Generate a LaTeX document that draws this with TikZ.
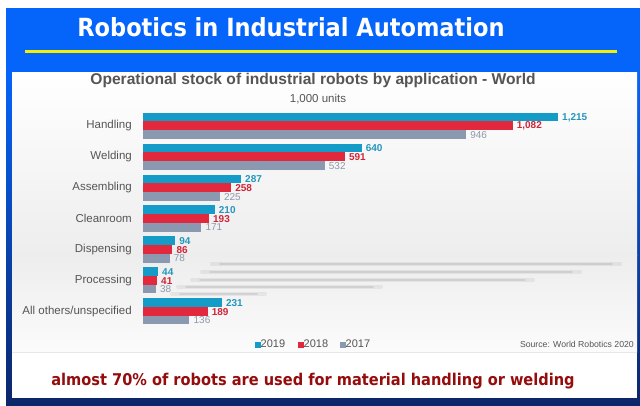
\documentclass[tikz,border=0pt]{standalone}
\usepackage{fontspec}
\setmainfont{Liberation Sans}
\newfontfamily\headfont{DejaVu Sans Condensed}
\definecolor{frameblue}{RGB}{5,100,250}
\definecolor{framenavy}{RGB}{12,38,105}
\definecolor{lineyellow}{RGB}{245,240,0}
\definecolor{bar19}{RGB}{20,155,200}
\definecolor{bar18}{RGB}{225,40,60}
\definecolor{bar17}{RGB}{138,152,176}
\definecolor{val19}{RGB}{35,150,190}
\definecolor{val18}{RGB}{210,35,55}
\definecolor{val17}{RGB}{140,152,172}
\definecolor{labgray}{RGB}{85,85,85}
\definecolor{notered}{RGB}{150,12,12}
\begin{document}
\begin{tikzpicture}[x=1pt,y=-1pt,
    /pgf/number format/1000 sep={,},
    /pgf/number format/assume math mode=true,
    title/.style={font={\headfont\bfseries\fontsize{25}{29}\selectfont},text=white},
    charttitle/.style={font={\bfseries\fontsize{15.6}{18}\selectfont},text=labgray},
    lab/.style={font={\fontsize{11.5}{13}\selectfont},text=labgray,anchor=east,inner sep=0pt},
    val/.style={font={\fontsize{10}{11}\selectfont},anchor=west,inner sep=0pt},
    boldval/.style={val,font={\bfseries\fontsize{10}{11}\selectfont}},
    leg/.style={font={\fontsize{11}{13}\selectfont},text=labgray,anchor=west,inner sep=0pt},
    note/.style={font={\headfont\bfseries\fontsize{16.2}{20}\selectfont},text=notered},
    streak/.style={gray,opacity=0.12,line width=4pt,line cap=round},
    streakcore/.style={gray,opacity=0.18,line width=1.8pt,line cap=round},
    ]
    \useasboundingbox (0,0) rectangle (640,405);

    % Blue frame
    \fill[frameblue] (6,8) rectangle (640,72);
    \shade[top color=frameblue,bottom color=framenavy] (6,72) rectangle (640,405);

    % Heading and yellow rule
    \node[title] (title) at (291,27) {Robotics in Industrial Automation};
    \coordinate (ruleL) at (25,51);
    \coordinate (ruleR) at (617,51);
    \draw[lineyellow,line width=3pt] (ruleL) -- (ruleR);

    % White panel with grey chart area
    \fill[white] (12,72) rectangle (637,398);
    \shade[top color=white,bottom color=gray!14] (12,72) rectangle (637,255);
    \shade[top color=gray!14,bottom color=gray!3] (12,255) rectangle (637,352);
    \draw[gray!18] (12,352) -- (637,352);

    % Chart heading
    \node[charttitle] (ctitle) at (313,80) {Operational stock of industrial robots by application - World};
    \node[lab,anchor=center] (units) at (318,99) {1,000 units};

    % Blurred streaks
    \foreach \sy/\sa/\sb in {264/212/620, 272/202/580, 280/192/533, 287/178/381, 294/172/265}{
      \draw[streak] (\sa,\sy) -- (\sb,\sy);
      \draw[streakcore] (\sa+8,\sy) -- (\sb-8,\sy);
    }

    % Bars
    \foreach \name/\a/\b/\c [count=\i from 0] in {
        Handling/1215/1082/946,
        Welding/640/591/532,
        Assembling/287/258/225,
        Cleanroom/210/193/171,
        Dispensing/94/86/78,
        Processing/44/41/38,
        All others\slash unspecified/231/189/136}{
      \pgfmathsetmacro\gtop{112.7+30.93*\i}
      \node[lab] (lab\i) at (132,\gtop+13) {\name};
      \fill[bar19] (143,\gtop) rectangle ++(\a*0.3416,8.7);
      \fill[bar18] (143,\gtop+8.7) rectangle ++(\b*0.3416,8.7);
      \fill[bar17] (143,\gtop+17.4) rectangle ++(\c*0.3416,8.7);
      \node[boldval,text=val19] (va\i) at (147+\a*0.3416,\gtop+4.6) {\pgfmathprintnumber{\a}};
      \node[boldval,text=val18] (vb\i) at (147+\b*0.3416,\gtop+13.3) {\pgfmathprintnumber{\b}};
      \node[val,text=val17] (vc\i) at (147+\c*0.3416,\gtop+22) {\pgfmathprintnumber{\c}};
    }

    % Legend and source
    \node[leg] (leg19) at (255,344) {{\color{bar19}\rule{5.5pt}{5.5pt}}2019};
    \node[leg] (leg18) at (298,344) {{\color{bar18}\rule{5.5pt}{5.5pt}}2018};
    \node[leg] (leg17) at (340,344) {{\color{bar17}\rule{5.5pt}{5.5pt}}2017};
    \node[leg,anchor=east,font={\fontsize{8.7}{10}\selectfont}] (source) at (634,344) {Source: World Robotics 2020};

    % Bottom note
    \node[note] (note) at (313,381) {almost 70\% of robots are used for material handling or welding};
\end{tikzpicture}
\end{document}
